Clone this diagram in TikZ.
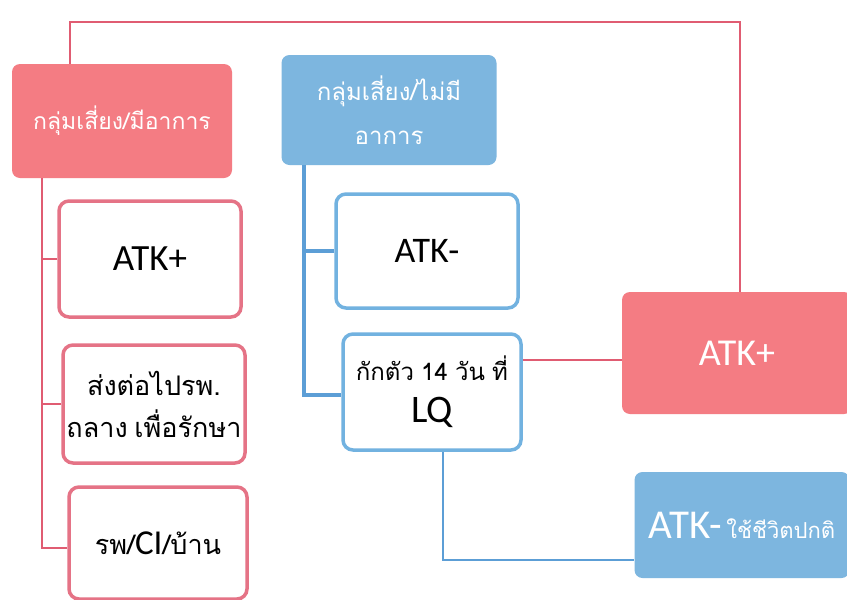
\documentclass[tikz,border=0pt]{standalone}
\usepackage{fontspec}
\setmainfont{Carlito}
\newfontfamily\thai[Script=Thai]{Loma}
\definecolor{pinkfill}{HTML}{F47C83}
\definecolor{pinkedge}{HTML}{E57386}
\definecolor{bluefill}{HTML}{7DB6DF}
\definecolor{blueedge}{HTML}{72B2E0}
\definecolor{pinkline}{HTML}{E05C72}
\definecolor{blueline}{HTML}{5C9ED6}
\tikzset{
  head/.style={rounded corners=8pt, inner sep=0pt, text=white, align=center},
  pinkhead/.style={head, fill=pinkfill},
  bluehead/.style={head, fill=bluefill},
  pinkbox/.style={draw=pinkedge, line width=3.5pt, fill=white, rounded corners=10pt, inner sep=0pt, align=center},
  bluebox/.style={draw=blueedge, line width=3.5pt, fill=white, rounded corners=10pt, inner sep=0pt, align=center},
  pl/.style={draw=pinkline, line width=1.2pt},
  bl/.style={draw=blueline, line width=1.2pt},
  blthick/.style={draw=blueline, line width=3.5pt},
}
\begin{document}
\begin{tikzpicture}[x=1pt,y=-1pt]
\useasboundingbox[fill=white] (0,0) rectangle (847,600);
% headers
\node[pinkhead, minimum width=220pt, minimum height=114pt,
  font={\thai\fontsize{23}{26}\selectfont}] (h1) at (122,121)
  {กลุ่มเสี่ยง/มีอาการ};
\node[bluehead, minimum width=215pt, minimum height=110pt,
  font={\thai\fontsize{24}{28}\selectfont}] (h2) at (389,110)
  {กลุ่มเสี่ยง/ไม่มี\\[16pt]อาการ};
% left column boxes
\node[pinkbox, minimum width=182pt, minimum height=116pt,
  font={\fontsize{37}{40}\selectfont}] (b1) at (150,259)
  {ATK+};
\node[pinkbox, minimum width=182pt, minimum height=118pt,
  font={\thai\fontsize{27}{32}\selectfont\spaceskip=0.25em}] (b2) at (154,404)
  {ส่งต่อไปรพ.\\[10pt]ถลาง เพื่อรักษา};
\node[pinkbox, minimum width=178pt, minimum height=112pt,
  font={\thai\fontsize{27}{32}\selectfont}] (b3) at (158,543)
  {รพ/{\rmfamily\fontsize{35}{32}\selectfont CI}/บ้าน};
% middle column boxes
\node[bluebox, minimum width=182pt, minimum height=114pt,
  font={\fontsize{36}{40}\selectfont}] (a1) at (427,251)
  {ATK-};
\node[bluebox, minimum width=178pt, minimum height=116pt,
  font={\thai\fontsize{24}{30}\selectfont\spaceskip=0.3em}] (q) at (432,392)
  {กักตัว 14 วัน ที่\\[12pt]{\rmfamily\fontsize{39}{40}\selectfont LQ}};
% right boxes
\node[pinkhead, minimum width=230pt, minimum height=122pt,
  font={\fontsize{38}{40}\selectfont}] (r1) at (737,353)
  {ATK+};
\node[bluehead, minimum width=215pt, minimum height=106pt,
  font={\fontsize{41}{42}\selectfont}] (r2) at (742,525)
  {ATK-\hspace{4pt}{\thai\fontsize{22}{26}\selectfont ใช้ชีวิตปกติ}};
% top connector
\coordinate (cL) at (70,22);
\coordinate (cR) at (740,22);
\draw[pl] (cL |- h1.north) -- (cL) -- (cR) -- (cR |- r1.north);
% left trunk
\coordinate (tL) at (42,0);
\coordinate (tLb) at (42,548);
\draw[pl] (tL |- h1.south) -- (tLb) -- (tLb -| b3.west);
\draw[pl] (b1.west) -- (b1.west -| tL);
\draw[pl] (b2.west) -- (b2.west -| tL);
% middle trunk
\coordinate (tM) at (304,0);
\coordinate (tMb) at (304,395);
\draw[blthick] (tM |- h2.south) -- (tMb) -- (tMb -| q.west);
\draw[blthick] (a1.west) -- (a1.west -| tM);
% LQ to ATK+
\coordinate (m1) at (0,360);
\draw[pl] (m1 -| q.east) -- (m1 -| r1.west);
% LQ to ATK-
\coordinate (qb) at (443,560);
\draw[bl] (qb |- q.south) -- (qb) -- (qb -| r2.west);
\end{tikzpicture}
\end{document}
